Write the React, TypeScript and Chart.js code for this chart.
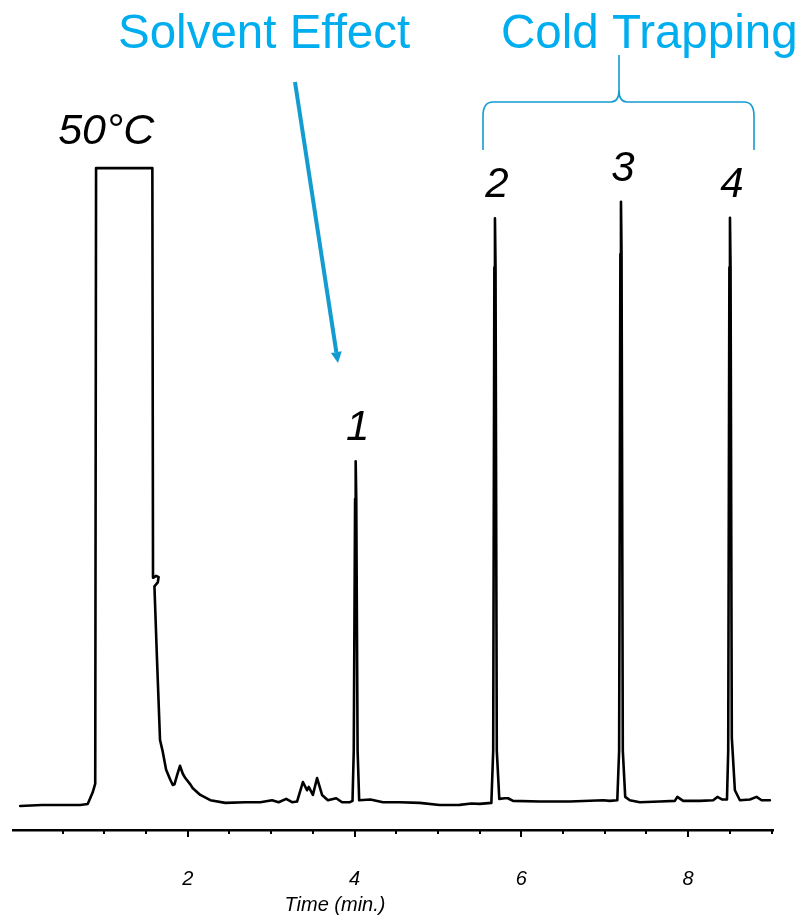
import React, { useEffect, useRef } from "react";
import { Chart, registerables } from "chart.js";

Chart.register(...registerables);

// ---- data ----
const retentionTimes = [
  -0.01, 0.25, 0.5, 0.71, 0.8, 0.86, 0.89, 0.9, 1.575, 1.583, 1.62, 1.65, 1.64, 1.6, 1.63, 1.667,
  1.7, 1.74, 1.79, 1.82, 1.84, 1.87, 1.906, 1.94, 1.97, 2.03, 2.06, 2.15, 2.27, 2.45, 2.69, 2.87,
  3.01, 3.09, 3.18, 3.25, 3.31, 3.38, 3.43, 3.45, 3.5, 3.55, 3.61, 3.68, 3.78, 3.85, 3.945, 3.975,
  3.99, 4.006, 4.013, 4.02, 4.036, 4.055, 4.19, 4.34, 4.54, 4.78, 5.02, 5.26, 5.4, 5.5, 5.64, 5.662,
  5.676, 5.683, 5.69, 5.705, 5.735, 5.8, 5.84, 5.9, 6.22, 6.58, 6.98, 7.06, 7.15, 7.172, 7.187, 7.194,
  7.201, 7.216, 7.245, 7.3, 7.42, 7.66, 7.84, 7.87, 7.94, 8.14, 8.3, 8.35, 8.41, 8.465, 8.48, 8.494,
  8.501, 8.508, 8.523, 8.56, 8.62, 8.74, 8.82, 8.88, 8.98,
];
const signal = [
  3.63, 3.78, 3.78, 3.78, 3.93, 5.7, 7.0, 100.0, 100.0, 38.1, 38.4, 38.2, 37.4, 36.8, 26.0, 13.6,
  11.8, 9.1, 7.6, 6.8, 6.9, 8.2, 9.7, 8.5, 7.85, 6.9, 6.3, 5.3, 4.5, 4.1, 4.2, 4.2,
  4.5, 4.2, 4.7, 4.2, 4.3, 7.25, 6.0, 6.5, 5.3, 7.85, 5.3, 4.5, 4.8, 4.2, 4.2, 4.4,
  12.0, 50.0, 55.7, 50.0, 12.0, 4.5, 4.6, 4.2, 4.2, 4.1, 3.78, 3.8, 4.0, 3.95, 4.1, 12.0,
  85, 92.4, 85, 12.0, 4.7, 4.8, 4.8, 4.4, 4.3, 4.3, 4.5, 4.4, 4.5, 12.0, 87, 94.9,
  87, 12.0, 5.0, 4.5, 4.2, 4.3, 4.4, 5.0, 4.4, 4.4, 4.5, 5.0, 4.6, 4.6, 12.0, 85,
  92.5, 85, 14, 6.0, 4.5, 4.6, 5.0, 4.5, 4.5,
];

const tickValues = [0.5, 1, 1.5, 2, 2.5, 3, 3.5, 4, 4.5, 5, 5.5, 6, 6.5, 7, 7.5, 8, 8.5, 9];
const majorTicks = [2, 4, 6, 8];
const peakNames = ["1", "2", "3", "4"];
const peakTimes = [4.013, 5.683, 7.194, 8.501];
const peakHeights = [55.7, 92.4, 94.9, 92.5];
const solventLabel = "50°C";
const axisTitle = "Time (min.)";
const annotationLeft = "Solvent Effect";
const annotationRight = "Cold Trapping";

const FONT = "'Liberation Sans', Arial, Helvetica, sans-serif";
const TEXT_BLUE = "#00AEEF";
const LINE_BLUE = "#139CCF";

const overlayPlugin = {
  id: "overlay",
  afterDraw(chart: any) {
    const ctx = chart.ctx as CanvasRenderingContext2D;
    const xs = chart.scales.x;
    const ys = chart.scales.y;
    ctx.save();

    // axis tick marks (minor/major)
    ctx.strokeStyle = "#000";
    ctx.lineWidth = 2;
    const axisY = xs.top;
    tickValues.forEach((v) => {
      const px = Math.round(xs.getPixelForValue(v));
      const len = majorTicks.includes(v) ? 7 : 4;
      ctx.beginPath();
      ctx.moveTo(px, axisY);
      ctx.lineTo(px, axisY + len);
      ctx.stroke();
    });

    // axis title
    ctx.fillStyle = "#000";
    ctx.font = `italic 20px ${FONT}`;
    ctx.textAlign = "center";
    ctx.textBaseline = "alphabetic";
    ctx.fillText(axisTitle, 335, 911);

    // peak labels
    ctx.font = `italic 42px ${FONT}`;
    peakNames.forEach((name, i) => {
      const px = xs.getPixelForValue(peakTimes[i]) + 2;
      const py = ys.getPixelForValue(peakHeights[i]) - 21;
      ctx.fillText(name, px, py);
    });

    // solvent peak label
    ctx.font = `italic 43px ${FONT}`;
    const solventX = (xs.getPixelForValue(0.9) + xs.getPixelForValue(1.575)) / 2 - 18;
    ctx.fillText(solventLabel, solventX, ys.getPixelForValue(100) - 24);

    // blue annotation texts
    ctx.fillStyle = TEXT_BLUE;
    ctx.font = `47.5px ${FONT}`;
    ctx.textAlign = "left";
    ctx.fillText(annotationLeft, 118, 48);
    ctx.fillText(annotationRight, 501, 48);

    // arrow
    const x0 = 295, y0 = 82, x1 = 338, y1 = 363;
    const ang = Math.atan2(y1 - y0, x1 - x0);
    const headLen = 11, headW = 5.5;
    const bx = x1 - headLen * Math.cos(ang);
    const by = y1 - headLen * Math.sin(ang);
    ctx.strokeStyle = LINE_BLUE;
    ctx.fillStyle = LINE_BLUE;
    ctx.lineWidth = 4;
    ctx.beginPath();
    ctx.moveTo(x0, y0);
    ctx.lineTo(bx, by);
    ctx.stroke();
    ctx.beginPath();
    ctx.moveTo(x1, y1);
    ctx.lineTo(bx + headW * Math.sin(ang), by - headW * Math.cos(ang));
    ctx.lineTo(bx - headW * Math.sin(ang), by + headW * Math.cos(ang));
    ctx.closePath();
    ctx.fill();

    // curly brace
    const L = 483, R = 754, M = 619, top = 102, bottom = 150, stemTop = 55;
    ctx.lineWidth = 1.6;
    ctx.beginPath();
    ctx.moveTo(L, bottom);
    ctx.lineTo(L, top + 14);
    ctx.quadraticCurveTo(L, top, L + 10, top);
    ctx.lineTo(M - 8, top);
    ctx.quadraticCurveTo(M, top, M, top - 12);
    ctx.lineTo(M, stemTop);
    ctx.moveTo(M, top - 12);
    ctx.quadraticCurveTo(M, top, M + 8, top);
    ctx.lineTo(R - 10, top);
    ctx.quadraticCurveTo(R, top, R, top + 14);
    ctx.lineTo(R, bottom);
    ctx.stroke();

    ctx.restore();
  },
};

export default function App() {
  const canvasRef = useRef<HTMLCanvasElement | null>(null);

  useEffect(() => {
    document.body.style.margin = "0";
    const canvas = canvasRef.current;
    if (!canvas) return;
    const points = retentionTimes.map((t, i) => ({ x: t, y: signal[i] }));
    const chart = new Chart(canvas, {
      type: "line",
      data: {
        datasets: [
          {
            data: points,
            borderColor: "#000",
            borderWidth: 2.6,
            pointRadius: 0,
            tension: 0,
            fill: false,
            borderJoinStyle: "round",
            borderCapStyle: "round",
          } as any,
        ],
      },
      options: {
        responsive: false,
        animation: false,
        devicePixelRatio: 1,
        layout: { padding: { left: 13, right: 28, top: 0, bottom: 0 } },
        plugins: { legend: { display: false }, tooltip: { enabled: false }, title: { display: false } },
        scales: {
          x: {
            type: "linear",
            min: -0.096,
            max: 9.017,
            afterBuildTicks: (scale: any) => {
              scale.ticks = tickValues.map((v) => ({ value: v }));
            },
            afterFit: (scale: any) => {
              scale.height = 85;
              scale.paddingLeft = 0;
              scale.paddingRight = 0;
            },
            grid: { display: false, drawTicks: false, drawOnChartArea: false },
            border: { display: true, color: "#000", width: 2.5 },
            ticks: {
              autoSkip: false,
              maxRotation: 0,
              padding: 37,
              color: "#000",
              font: { family: FONT, size: 20, style: "italic" },
              callback: (v: any) => (majorTicks.includes(Number(v)) ? String(v) : ""),
            },
          },
          y: {
            type: "linear",
            display: false,
            min: 0,
            max: 125.4,
          },
        },
      },
      plugins: [overlayPlugin],
    });
    return () => chart.destroy();
  }, []);

  return (
    <div style={{ position: "absolute", left: 0, top: 0, width: 801, height: 915, background: "#fff" }}>
      <canvas ref={canvasRef} width={801} height={915} />
    </div>
  );
}
